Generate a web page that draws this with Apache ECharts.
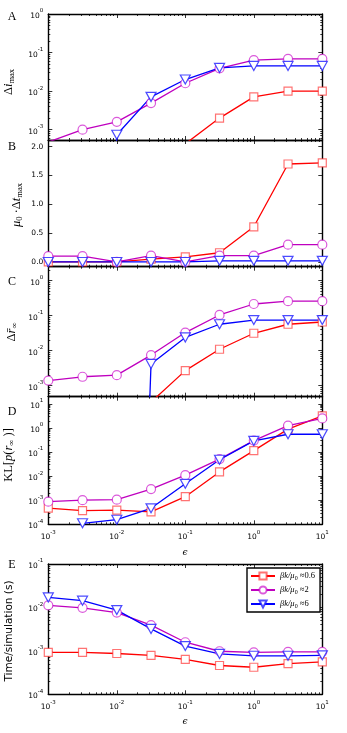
<!DOCTYPE html>
<html>
<head>
<meta charset="utf-8">
<script src="https://cdn.jsdelivr.net/npm/echarts@6/dist/echarts.min.js"></script>
<style>
html, body { margin: 0; padding: 0; background: #fff; }
#chart-container { width: 347px; height: 733px; }
</style>
</head>
<body>
<div id="chart-container"></div>
<script>
// epsilon values (x) shared by every panel
var epsilon = [1e-3, 3.16e-3, 1e-2, 3.16e-2, 0.1, 0.316, 1, 3.16, 10];
var seriesNames = ['bk06', 'bk2', 'bk6'];

// A: Δi_max
var aRed    = [0, 0, 0, 0, 4.3e-4, 2.0e-3, 7.1e-3, 1.0e-2, 1.0e-2];
var aPurple = [4.8e-4, 1.0e-3, 1.6e-3, 4.9e-3, 1.6e-2, 3.9e-2, 6.4e-2, 6.9e-2, 6.9e-2];
var aBlue   = [0, 0, 7.4e-4, 7.1e-3, 2.0e-2, 4.0e-2, 4.5e-2, 4.5e-2, 4.5e-2];

// B: μ0·Δt_max (linear)
var bRed    = [0, 0, 0, 0.05, 0.09, 0.16, 0.61, 1.70, 1.72];
var bPurple = [0.10, 0.10, 0, 0.11, 0, 0.11, 0.11, 0.30, 0.30];
var bBlue   = [0, 0, 0, 0, 0, 0.02, 0.02, 0.02, 0.02];

// C: Δr∞
var cRed    = [0, 0, 0, 3.4e-4, 2.7e-3, 1.1e-2, 3.15e-2, 5.7e-2, 6.6e-2];
var cPurple = [1.4e-3, 1.8e-3, 2.0e-3, 7.5e-3, 3.3e-2, 0.105, 0.216, 0.26, 0.26];
var cBlue   = [0, 0, 0, 4.2e-3, 2.4e-2, 5.7e-2, 7.5e-2, 7.5e-2, 7.5e-2];

// D: KL[p(r∞)]
var dRed    = [4.7e-4, 3.7e-4, 3.9e-4, 3.3e-4, 1.4e-3, 1.5e-2, 0.115, 0.9, 3.2];
var dPurple = [8.7e-4, 1.0e-3, 1.05e-3, 2.9e-3, 1.1e-2, 5.1e-2, 0.30, 1.26, 2.5];
var dBlue   = [0, 1.1e-4, 1.55e-4, 4.6e-4, 4.8e-3, 4.8e-2, 0.29, 0.55, 0.55];

// E: time per simulation (s)
var eRed    = [9.2e-4, 9.2e-4, 8.7e-4, 7.9e-4, 6.4e-4, 4.6e-4, 4.2e-4, 5.1e-4, 5.6e-4];
var ePurple = [1.12e-2, 9.8e-3, 7.6e-3, 3.9e-3, 1.58e-3, 9.8e-4, 9.2e-4, 9.5e-4, 9.5e-4];
var eBlue   = [1.7e-2, 1.43e-2, 8.7e-3, 3.2e-3, 1.29e-3, 8.5e-4, 7.7e-4, 7.7e-4, 7.9e-4];

// tick positions (exponents for log panels)
var xTicks = [-3, -2, -1, 0, 1];
var aTicks = [-3, -2, -1, 0];
var bTicks = [0, 0.5, 1, 1.5, 2];
var cTicks = [-3, -2, -1, 0];
var dTicks = [-4, -3, -2, -1, 0, 1];
var eTicks = [-4, -3, -2, -1];

var dom = document.getElementById('chart-container');
var myChart = echarts.init(dom, null, { renderer: 'canvas' });

// zero values get clipped far below the axis, like matplotlib does on log axes
function lg(v) { return v > 0 ? Math.log10(v) : -30; }

function minorLog(lo, hi) {
  var out = [];
  for (var n = Math.floor(lo); n <= Math.ceil(hi); n++) {
    for (var k = 2; k <= 9; k++) {
      var t = n + Math.log10(k);
      if (t >= lo && t <= hi) out.push(t);
    }
  }
  return out;
}

function powLabel(v) {
  var e = Math.round(v);
  return '{b|10}{e|' + (e < 0 ? '-' : '') + Math.abs(e) + '}';
}

var supRich = {
  b: { fontSize: 7.5, fontFamily: 'DejaVu Sans', lineHeight: 12, verticalAlign: 'bottom', color: '#000' },
  e: { fontSize: 5.5, fontFamily: 'DejaVu Sans', lineHeight: 5, verticalAlign: 'top', color: '#000' }
};

var colors = ['#ff0000', '#bf00bf', '#0000ff'];
var edgeColors = ['rgba(255,40,40,0.65)', 'rgba(200,0,200,0.65)', 'rgba(30,30,255,0.8)'];
var symbols = ['rect', 'circle', 'triangle'];
var symbolSizes = [8, 9, [10, 9]];

var panels = [
  { top: 14, height: 126, log: true, yMin: -3.267, yMax: 0, ticks: aTicks, data: [aRed, aPurple, aBlue], xLabels: false },
  { top: 140, height: 126.7, log: false, yMin: -0.082, yMax: 2.116, ticks: bTicks, data: [bRed, bPurple, bBlue], xLabels: false },
  { top: 266.7, height: 130, log: true, yMin: -3.314, yMax: 0.4, ticks: cTicks, data: [cRed, cPurple, cBlue], xLabels: false },
  { top: 396.7, height: 127.6, log: true, yMin: -4, yMax: 1.3, ticks: dTicks, data: [dRed, dPurple, dBlue], xLabels: true },
  { top: 564, height: 130.3, log: true, yMin: -4, yMax: -1, ticks: eTicks, data: [eRed, ePurple, eBlue], xLabels: true }
];

function xAxisDef(gi, pos, ticks, len, line, labels) {
  return {
    gridIndex: gi, type: 'value', position: pos, min: -3, max: 1,
    axisLine: { show: line, onZero: false, lineStyle: { color: '#000', width: 1.4 } },
    axisTick: { show: true, inside: true, length: len, customValues: ticks, lineStyle: { color: '#000', width: 0.8 } },
    axisLabel: { show: labels, customValues: xTicks, formatter: powLabel, margin: 5, color: '#000', rich: supRich },
    splitLine: { show: false }
  };
}

function yAxisDef(gi, p, pos, ticks, len, line, labels) {
  return {
    gridIndex: gi, type: 'value', position: pos, min: p.yMin, max: p.yMax,
    axisLine: { show: line, onZero: false, lineStyle: { color: '#000', width: 1.4 } },
    axisTick: { show: true, inside: true, length: len, customValues: ticks, lineStyle: { color: '#000', width: 0.8 } },
    axisLabel: {
      show: labels, customValues: p.ticks, margin: 5, color: '#000',
      fontSize: 7.5, fontFamily: 'DejaVu Sans',
      formatter: p.log ? powLabel : function (v) { return v.toFixed(1); },
      rich: supRich
    },
    splitLine: { show: false }
  };
}

var grids = [], xAxes = [], yAxes = [], series = [];
var xMinor = minorLog(-3, 1);

panels.forEach(function (p, gi) {
  grids.push({ left: 48.3, width: 274, top: p.top, height: p.height, outerBoundsMode: 'none' });
  var yMinor = p.log ? minorLog(p.yMin, p.yMax) : [];
  var xi = xAxes.length;
  xAxes.push(xAxisDef(gi, 'bottom', xTicks, 4, true, p.xLabels));
  xAxes.push(xAxisDef(gi, 'bottom', xMinor, 2, false, false));
  xAxes.push(xAxisDef(gi, 'top', xTicks, 4, true, false));
  xAxes.push(xAxisDef(gi, 'top', xMinor, 2, false, false));
  var yi = yAxes.length;
  yAxes.push(yAxisDef(gi, p, 'left', p.ticks, 4, true, true));
  yAxes.push(yAxisDef(gi, p, 'left', yMinor, 2, false, false));
  yAxes.push(yAxisDef(gi, p, 'right', p.ticks, 4, true, false));
  yAxes.push(yAxisDef(gi, p, 'right', yMinor, 2, false, false));

  p.data.forEach(function (vals, si) {
    series.push({
      name: seriesNames[si],
      type: 'line',
      xAxisIndex: xi,
      yAxisIndex: yi,
      data: vals.map(function (v, k) {
        return [Math.log10(epsilon[k]), p.log ? lg(v) : v];
      }),
      symbol: symbols[si],
      symbolSize: symbolSizes[si],
      symbolRotate: si === 2 ? 180 : 0,
      showAllSymbol: true,
      lineStyle: { color: colors[si], width: 1.3 },
      itemStyle: { color: '#fff', borderColor: edgeColors[si], borderWidth: 1.2 },
      emphasis: { disabled: true }
    });
  });
});

var serif = 'Liberation Serif, DejaVu Serif';
var mathRich = {
  r: { fontFamily: serif, fontSize: 12.5, lineHeight: 14, verticalAlign: 'top', color: '#000' },
  i: { fontFamily: serif, fontStyle: 'italic', fontSize: 12.5, lineHeight: 14, verticalAlign: 'top', color: '#000' },
  s: { fontFamily: serif, fontSize: 8.5, lineHeight: 7, verticalAlign: 'bottom', color: '#000' }
};

var legendRich = {
  r: { fontFamily: serif, fontSize: 8.5, lineHeight: 10, verticalAlign: 'top', color: '#000' },
  i: { fontFamily: serif, fontStyle: 'italic', fontSize: 8.5, lineHeight: 10, verticalAlign: 'top', color: '#000' },
  s: { fontFamily: serif, fontSize: 6, lineHeight: 5, verticalAlign: 'bottom', color: '#000' }
};
var legendText = {
  bk06: '{i|βk/μ}{s|0}{r| ≈0.6}',
  bk2: '{i|βk/μ}{s|0}{r| ≈2}',
  bk6: '{i|βk/μ}{s|0}{r| ≈6}'
};

function label(x, y, text, font) {
  return {
    type: 'text', x: x, y: y, silent: true,
    style: { text: text, font: font, fill: '#000', align: 'center', verticalAlign: 'middle', textAlign: 'center', textVerticalAlign: 'middle' }
  };
}
function vtitle(x, y, text, rich) {
  return {
    type: 'text', x: x, y: y, rotation: Math.PI / 2, silent: true,
    style: { text: text, rich: rich, fill: '#000', align: 'center', verticalAlign: 'middle', textAlign: 'center', textVerticalAlign: 'middle' }
  };
}

var letterFont = '12px "Liberation Serif", "DejaVu Serif"';
var epsFont = 'italic 9px "DejaVu Serif"';

option = {
  animation: false,
  backgroundColor: '#fff',
  grid: grids,
  xAxis: xAxes,
  yAxis: yAxes,
  legend: {
    data: seriesNames,
    left: 247, top: 568,
    orient: 'vertical',
    itemWidth: 24, itemHeight: 9, itemGap: 4,
    padding: [3, 5, 3, 3],
    borderColor: '#000', borderWidth: 1.4, backgroundColor: '#fff',
    selectedMode: false,
    formatter: function (name) { return legendText[name]; },
    textStyle: { rich: legendRich }
  },
  graphic: [
    label(12, 17, 'A', letterFont),
    label(12, 147, 'B', letterFont),
    label(12, 282, 'C', letterFont),
    label(12, 412, 'D', letterFont),
    label(12, 565, 'E', letterFont),
    label(185, 553, 'ϵ', epsFont),
    label(185, 722, 'ϵ', epsFont),
    vtitle(9, 82, '{r|Δ}{i|i}{s|max}', mathRich),
    vtitle(17, 205, '{i|μ}{s|0}{r| ·Δ}{i|t}{s|max}', mathRich),
    vtitle(12, 332, '{r|Δ}{i|r̄}{s|∞}', mathRich),
    vtitle(9, 455, '{r|KL[}{i|p}{r|(}{i|r}{s|∞}{r| )]}', mathRich),
    {
      type: 'text', x: 9, y: 631, rotation: Math.PI / 2, silent: true,
      style: { text: 'Time/simulation (s)', font: '10.5px "DejaVu Sans"', fill: '#000', align: 'center', verticalAlign: 'middle', textAlign: 'center', textVerticalAlign: 'middle' }
    }
  ],
  series: series
};

if (option && typeof option === 'object') {
  myChart.setOption(option);
}

window.addEventListener('resize', myChart.resize);
</script>
</body>
</html>
